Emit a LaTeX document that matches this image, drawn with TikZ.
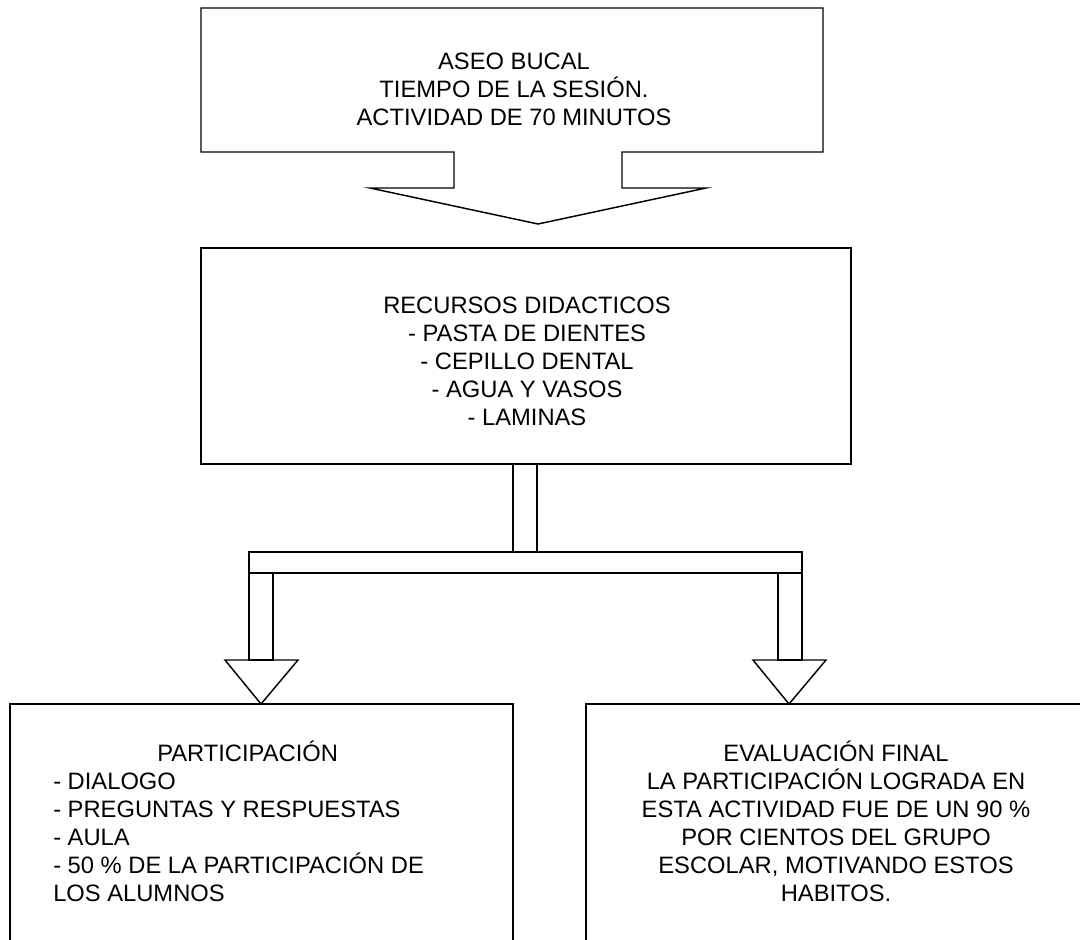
\documentclass[tikz,border=0pt]{standalone}
\usepackage{fontspec}
\setmainfont{Liberation Sans}
\tikzset{
  linea/.style={line width=1.1pt},
  texto/.style={inner sep=0pt, font=\fontsize{17.8}{21}\selectfont},
}
\begin{document}
\begin{tikzpicture}[x=0.75pt,y=0.75pt,yscale=-1,xscale=1]
\path [use as bounding box] (0,0) rectangle (1080,939);
\clip (0,0) rectangle (1080,939);

%Shape: Callout down
\draw [linea] (201,8) -- (823,8) -- (823,152) -- (622,152) -- (622,188) -- (706,188) -- (538,224) -- (370,188) -- (454,188) -- (454,152) -- (201,152) -- cycle ;
%Shape: Rectangle
\draw [linea] (201,248) -- (851,248) -- (851,464) -- (201,464) -- cycle ;
%Shape: Rectangle
\draw [linea] (513,464) -- (537,464) -- (537,552) -- (513,552) -- cycle ;
%Shape: Rectangle
\draw [linea] (249,552) -- (802,552) -- (802,573) -- (249,573) -- cycle ;
%Shape: Rectangle
\draw [linea] (249,573) -- (273,573) -- (273,660) -- (249,660) -- cycle ;
%Shape: Rectangle
\draw [linea] (778,573) -- (802,573) -- (802,660) -- (778,660) -- cycle ;
%Shape: Triangle
\draw [linea] (225,660) -- (298,660) -- (261,704) -- cycle ;
%Shape: Triangle
\draw [linea] (753,660) -- (826,660) -- (789,704) -- cycle ;
%Shape: Rectangle
\draw [linea] (10,960) -- (10,704) -- (513,704) -- (513,960) ;
%Shape: Rectangle
\draw [linea] (586,960) -- (586,704) -- (1090,704) -- (1090,960) ;

% Text Node
\node (aseo) [texto, align=center] at (514,89) {ASEO BUCAL\\TIEMPO DE LA SESIÓN.\\ACTIVIDAD DE 70 MINUTOS};
% Text Node
\node (recursos) [texto, align=center] at (527,361) {RECURSOS DIDACTICOS\\- PASTA DE DIENTES\\- CEPILLO DENTAL\\- AGUA Y VASOS\\- LAMINAS};
% Text Node
\node (participacion) [texto, align=left, anchor=north west] at (53,741) {\hspace*{78pt}PARTICIPACIÓN\\- DIALOGO\\- PREGUNTAS Y RESPUESTAS\\- AULA\\- 50 \% DE LA PARTICIPACIÓN DE\\LOS ALUMNOS};
% Text Node
\node (evaluacion) [texto, align=center, anchor=north] at (836,741) {EVALUACIÓN FINAL\\LA PARTICIPACIÓN LOGRADA EN\\ESTA ACTIVIDAD FUE DE UN 90 \%\\POR CIENTOS DEL GRUPO\\ESCOLAR, MOTIVANDO ESTOS\\HABITOS.};

\end{tikzpicture}
\end{document}
